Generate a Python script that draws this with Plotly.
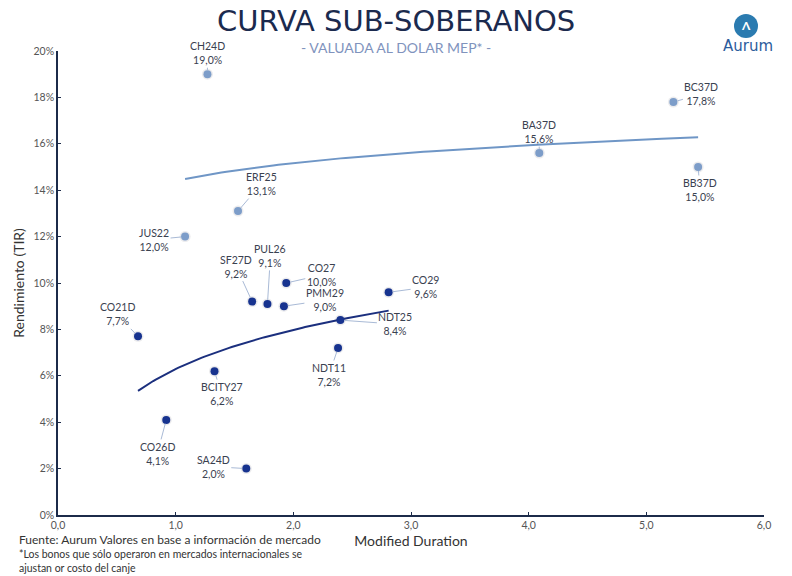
import numpy as np
import plotly.graph_objects as go

# ---- data ----
intl_names = ["CH24D", "BC37D", "BA37D", "BB37D", "ERF25", "JUS22"]
intl_duration = [1.27, 5.23, 4.09, 5.44, 1.53, 1.08]
intl_yield = [19.0, 17.8, 15.6, 15.0, 13.1, 12.0]

local_names = ["CO27", "SF27D", "PUL26", "PMM29", "CO29", "NDT25", "CO21D",
               "NDT11", "BCITY27", "CO26D", "SA24D"]
local_duration = [1.94, 1.65, 1.78, 1.92, 2.81, 2.40, 0.68, 2.38, 1.33, 0.92, 1.60]
local_yield = [10.0, 9.2, 9.1, 9.0, 9.6, 8.4, 7.7, 7.2, 6.2, 4.1, 2.0]

y_ticks = [0, 2, 4, 6, 8, 10, 12, 14, 16, 18, 20]
x_ticks = [0, 1, 2, 3, 4, 5, 6]

# ---- label offsets (pixels) ----
label_offsets = {
    "CH24D": (0, -21), "BC37D": (28, -8), "BA37D": (0, -21), "BB37D": (2, 23),
    "ERF25": (23, -27), "JUS22": (-31, 3), "CO27": (35, -8), "SF27D": (-16, -35),
    "PUL26": (3, -48), "PMM29": (41, -6), "CO29": (37, -5), "NDT25": (55, 4),
    "CO21D": (-21, -22), "NDT11": (-9, 27), "BCITY27": (7, 23), "CO26D": (-9, 34),
    "SA24D": (-33, -2),
}

LIGHT = "#7d9dc9"
DARK = "#17338f"
FONT = "Lato"


def log_trend(xs, ys):
    xs = np.asarray(xs, float)
    ys = np.asarray(ys, float)
    b, a = np.polyfit(np.log(xs), ys, 1)
    xx = np.linspace(xs.min(), xs.max(), 100)
    return xx, a + b * np.log(xx)


fig = go.Figure()

# trend lines
for xs, ys, col in [(intl_duration, intl_yield, "#6f96c6"),
                    (local_duration, local_yield, "#1b2f7e")]:
    tx, ty = log_trend(xs, ys)
    fig.add_trace(go.Scatter(x=tx, y=ty, mode="lines",
                             line=dict(color=col, width=2), hoverinfo="skip",
                             showlegend=False))

# soft shadows
for xs, ys in [(intl_duration, intl_yield), (local_duration, local_yield)]:
    fig.add_trace(go.Scatter(x=xs, y=ys, mode="markers",
                             marker=dict(size=11, color="rgba(60,60,80,0.10)"),
                             hoverinfo="skip", showlegend=False))

fig.add_trace(go.Scatter(x=intl_duration, y=intl_yield, mode="markers",
                         marker=dict(size=8, color=LIGHT), text=intl_names,
                         showlegend=False))
fig.add_trace(go.Scatter(x=local_duration, y=local_yield, mode="markers",
                         marker=dict(size=8, color=DARK), text=local_names,
                         showlegend=False))

annotations = []
for names, xs, ys in [(intl_names, intl_duration, intl_yield),
                      (local_names, local_duration, local_yield)]:
    for n, x, y in zip(names, xs, ys):
        ax, ay = label_offsets[n]
        annotations.append(dict(
            x=x, y=y, xref="x", yref="y",
            text=f"{n}<br>{y:.1f}%".replace(".", ","),
            showarrow=True, arrowhead=0, arrowwidth=1, arrowcolor="#a9bad6",
            ax=ax, ay=ay, standoff=4,
            font=dict(family=FONT, size=10.5, color="#3a4150"),
            align="center"))

# titles & notes
annotations += [
    dict(text="CURVA SUB-SOBERANOS", xref="paper", yref="paper",
         x=0.4788, y=(515 - 21) / 464, xanchor="center", yanchor="middle",
         showarrow=False,
         font=dict(family="DejaVu Sans", size=29, color="#1b2a4e")),
    dict(text="- VALUADA AL DOLAR MEP* -", xref="paper", yref="paper",
         x=0.4788, y=(515 - 47) / 464, xanchor="center", yanchor="middle",
         showarrow=False, font=dict(family=FONT, size=14, color="#8093bd")),
    dict(text="Aurum", xref="paper", yref="paper",
         x=(748 - 58) / 706, y=(515 - 46) / 464, xanchor="center", yanchor="middle",
         showarrow=False, font=dict(family="DejaVu Sans", size=15, color="#2c5c9c")),
    dict(text="<b>Λ</b>", xref="paper", yref="paper",
         x=(746 - 58) / 706, y=(515 - 26) / 464, xanchor="center", yanchor="middle",
         showarrow=False, font=dict(family=FONT, size=12, color="white")),
    dict(text="Fuente: Aurum Valores en base a información de mercado",
         xref="paper", yref="paper", x=(18 - 58) / 706, y=(515 - 531) / 464,
         xanchor="left", yanchor="top", showarrow=False, borderpad=0,
         font=dict(family=FONT, size=12, color="#333")),
    dict(text="*Los bonos que sólo operaron en mercados internacionales se<br>ajustan or costo del canje",
         xref="paper", yref="paper", x=(18 - 58) / 706, y=(515 - 547) / 464,
         xanchor="left", yanchor="top", showarrow=False, align="left", borderpad=0,
         font=dict(family=FONT, size=10.5, color="#333")),
]

fig.add_shape(type="circle", xref="paper", yref="paper",
              xsizemode="pixel", ysizemode="pixel",
              xanchor=(746 - 58) / 706, yanchor=(515 - 26) / 464,
              x0=-12, x1=12, y0=-12, y1=12,
              fillcolor="#2b7bb0", line=dict(width=0))

fig.update_layout(
    width=792, height=576,
    margin=dict(l=58, r=28, t=51, b=61),
    paper_bgcolor="white", plot_bgcolor="white",
    font=dict(family=FONT, color="#444"),
    annotations=annotations,
    xaxis=dict(range=[0, 6], tickvals=x_ticks,
               ticktext=[f"{v:.1f}".replace(".", ",") for v in x_ticks],
               showgrid=False, zeroline=False, showline=True,
               linecolor="#1c2b4a", linewidth=1.5, ticks="inside", ticklen=3,
               tickcolor="#1c2b4a", tickfont=dict(size=10.5, color="#555"),
               title=dict(text="Modified Duration", standoff=6,
                          font=dict(size=14, color="#333"))),
    yaxis=dict(range=[0, 20], tickvals=y_ticks,
               ticktext=[f"{v}%" for v in y_ticks],
               showgrid=False, zeroline=False, showline=True,
               linecolor="#1c2b4a", linewidth=1.5, ticks="inside", ticklen=3,
               tickcolor="#1c2b4a", tickfont=dict(size=10.5, color="#555"),
               title=dict(text="Rendimiento (TIR)", standoff=6,
                          font=dict(size=14, color="#333"))),
)

fig.write_html("out.html", config={"displayModeBar": False},
               post_script="document.body.style.margin='0';document.body.style.padding='0';")
